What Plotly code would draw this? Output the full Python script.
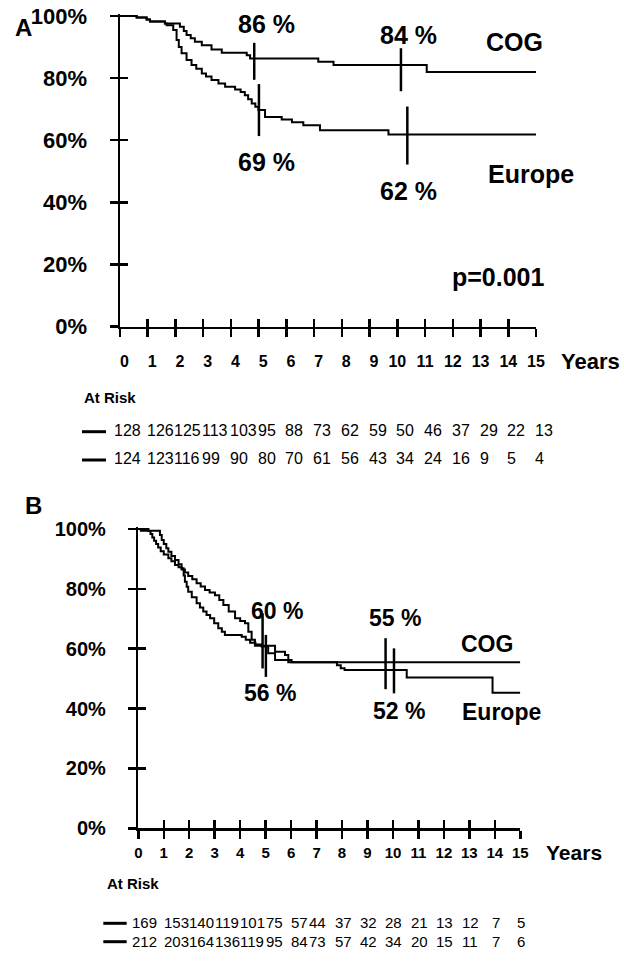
import plotly.graph_objects as go

W, H = 624, 963
FONT = "Liberation Sans, Arial, sans-serif"

# ---------------- data: panel A ----------------
a_cog_t = [0, 0.6, 0.96, 1.08, 1.62, 2.16, 2.3, 2.4, 2.55, 2.7, 2.95, 3.3, 3.67, 4.57, 4.69, 7.15, 7.7, 11.06, 15]
a_cog_s = [100, 99.5, 98.9, 98.2, 97.6, 96.5, 95.2, 93.9, 92.8, 91.7, 90.6, 89.2, 88.2, 87.4, 86.3, 85.3, 84.2, 82.0, 82.0]
a_eur_t = [0, 0.6, 0.96, 1.08, 1.62, 1.68, 1.92, 2.04, 2.12, 2.22, 2.4, 2.58, 2.75, 2.95, 3.1, 3.3, 3.55,
           3.79, 4.15, 4.35, 4.5, 4.62, 4.75, 4.88, 4.99, 5.23, 5.83, 6.2, 6.61, 7.21, 9.68, 15]
a_eur_s = [100, 99.5, 98.9, 98.2, 97.6, 97.0, 95.5, 92.3, 90.0, 88.0, 85.8, 84.2, 83.0, 81.5, 80.5, 79.4, 78.3,
           77.2, 76.3, 75.5, 74.5, 73.2, 71.8, 70.8, 69.7, 67.5, 66.7, 65.8, 64.8, 63.2, 61.8, 61.8]
a_mark_t = [4.84, 10.13, 5.01, 10.36]
a_mark_s = [85.4, 82.7, 69.7, 61.5]
a_mark_txt = ["86 %", "84 %", "69 %", "62 %"]

# ---------------- data: panel B ----------------
b_cog_t = [0, 0.4, 0.48, 0.55, 0.62, 0.7, 0.78, 0.88, 1.0, 1.18, 1.3, 1.44, 1.58, 1.7, 1.83, 1.96, 2.12, 2.29,
           2.45, 2.62, 2.8, 3.01, 3.18, 3.34, 3.55, 3.8, 4.0, 4.19, 4.32, 4.45, 4.58, 5.37, 5.76, 5.89, 15]
b_cog_s = [100, 99.3, 98.3, 97.2, 96.1, 95.0, 93.8, 92.6, 91.5, 90.2, 89.2, 88.0, 87.2, 86.5, 85.5, 84.3, 83.2, 81.9,
           80.8, 79.6, 78.8, 77.9, 76.3, 74.6, 72.4, 70.2, 69.3, 68.5, 65.7, 63.0, 61.0, 59.0, 57.9, 55.5, 55.5]
b_eur_t = [0, 0.1, 0.85, 0.92, 1.0, 1.1, 1.18, 1.3, 1.44, 1.58, 1.7, 1.78, 1.83, 1.9, 1.96, 2.1, 2.29, 2.42, 2.55,
           2.68, 2.82, 2.98, 3.14, 3.28, 3.4, 4.06, 4.22, 4.39, 4.6, 4.84, 5.1, 5.37, 6.02, 7.8, 7.95, 8.1, 10.54,
           13.91, 15]
b_eur_s = [100, 99.4, 98.0, 96.3, 95.0, 93.6, 92.4, 91.0, 89.6, 88.2, 86.9, 84.5, 82.4, 80.7, 79.0, 77.2, 75.2, 73.8,
           72.4, 71.3, 70.2, 68.5, 66.8, 65.7, 64.6, 64.0, 63.0, 62.0, 61.4, 60.7, 58.5, 56.2, 55.5, 54.5, 53.5, 52.9,
           50.4, 45.3, 45.3]
b_mark_t = [4.88, 9.71, 5.01, 10.04]
b_mark_s = [62.6, 55.0, 57.6, 52.6]
b_mark_txt = ["60 %", "55 %", "56 %", "52 %"]

# ---------------- at-risk tables & ticks ----------------
years = list(range(16))
y_ticks = [0, 20, 40, 60, 80, 100]
y_ticktext = ["0%", "20%", "40%", "60%", "80%", "100%"]
a_risk_cog = [128, 126, 125, 113, 103, 95, 88, 73, 62, 59, 50, 46, 37, 29, 22, 13]
a_risk_eur = [124, 123, 116, 99, 90, 80, 70, 61, 56, 43, 34, 24, 16, 9, 5, 4]
b_risk_cog = [169, 153, 140, 119, 101, 75, 57, 44, 37, 32, 28, 21, 13, 12, 7, 5]
b_risk_eur = [212, 203, 164, 136, 119, 95, 84, 73, 57, 42, 34, 20, 15, 11, 7, 6]

# ---------------- geometry (pixels) ----------------
def px(x):
    return x / W

def py(y):
    return 1 - y / H

YTOP = 100.6
a_ppu = (326.5 - 16) / 100
a_dom_y = [py(326.5), py(326.5 - YTOP * a_ppu)]
a_dom_x = [px(120), px(536)]
b_ppu = (828.3 - 529) / 100
b_dom_y = [py(828.3), py(828.3 - YTOP * b_ppu)]
b_dom_x = [px(138.3), px(520.3)]

BLACK = "black"
fig = go.Figure()

def curve(t, s, xa, ya):
    fig.add_trace(go.Scatter(x=t, y=s, mode="lines", line=dict(color=BLACK, width=2, shape="hv"),
                             xaxis=xa, yaxis=ya, showlegend=False, hoverinfo="skip"))

curve(a_cog_t, a_cog_s, "x", "y")
curve(a_eur_t, a_eur_s, "x", "y")
curve(b_cog_t, b_cog_s, "x2", "y2")
curve(b_eur_t, b_eur_s, "x2", "y2")

a_mark_len = [37, 43, 52, 58]
b_mark_len = [55, 51, 42, 45]
for mt, ms, ml, xa, ya in [(a_mark_t, a_mark_s, a_mark_len, "x", "y"), (b_mark_t, b_mark_s, b_mark_len, "x2", "y2")]:
    fig.add_trace(go.Scatter(x=mt, y=ms, mode="markers", xaxis=xa, yaxis=ya, cliponaxis=False,
                             marker=dict(symbol="line-ns-open", size=[l / 1.4 for l in ml], color=BLACK,
                                         opacity=1, line=dict(color=BLACK, width=2.5)),
                             showlegend=False, hoverinfo="skip"))

# invisible traces so that the overlay (inside-tick) axes are drawn
for xa, ya in [("x3", "y3"), ("x4", "y4")]:
    fig.add_trace(go.Scatter(x=[None], y=[None], mode="markers", xaxis=xa, yaxis=ya,
                             showlegend=False, hoverinfo="skip"))

def xaxis_main(dom, anchor, tickfont_size, ticktext, standoff):
    return dict(domain=dom, anchor=anchor, range=[0, 15], tickmode="array", tickvals=years, ticktext=ticktext,
                ticks="outside", ticklen=8, tickwidth=2.5, tickcolor=BLACK, showline=True, linewidth=2.5,
                linecolor=BLACK, showgrid=False, zeroline=False, fixedrange=True, automargin=False,
                tickfont=dict(family=FONT, size=tickfont_size, color=BLACK, weight="bold"),
                ticklabelstandoff=standoff)

def xaxis_over(over, anchor):
    return dict(overlaying=over, anchor=anchor, range=[0, 15], tickmode="array", tickvals=years,
                ticks="inside", ticklen=8, tickwidth=2.5, tickcolor=BLACK, showticklabels=False,
                showline=False, showgrid=False, zeroline=False, automargin=False, fixedrange=True)

def yaxis_main(dom, anchor, tickfont_size, standoff):
    return dict(domain=dom, anchor=anchor, range=[0, YTOP], tickmode="array", tickvals=y_ticks,
                ticktext=y_ticktext, ticks="outside", ticklen=8, tickwidth=2.5, tickcolor=BLACK, showline=True,
                linewidth=2.5, linecolor=BLACK, showgrid=False, zeroline=False, fixedrange=True, automargin=False,
                tickfont=dict(family=FONT, size=tickfont_size, color=BLACK, weight="bold"),
                ticklabelstandoff=standoff)

def yaxis_over(over, anchor):
    return dict(overlaying=over, anchor=anchor, range=[0, YTOP], tickmode="array", tickvals=y_ticks,
                ticks="inside", ticklen=8, tickwidth=2.5, tickcolor=BLACK, showticklabels=False,
                showline=False, showgrid=False, zeroline=False, automargin=False, fixedrange=True)

a_xticktext = [("\u00a0\u00a0" + str(v)) if v < 10 else str(v) for v in years]
b_xticktext = [str(v) for v in years]

annotations = []

def ann(text, x, y, xr, yr, size, bold=True, xanchor="center", xshift=0):
    annotations.append(dict(text=text, x=x, y=y, xref=xr, yref=yr, showarrow=False, xanchor=xanchor,
                            yanchor="middle", xshift=xshift,
                            font=dict(family=FONT, size=size, color=BLACK, weight="bold" if bold else "normal")))

def pann(text, xpix, ypix, size, bold=True, xanchor="center"):
    ann(text, px(xpix), py(ypix), "paper", "paper", size, bold=bold, xanchor=xanchor)

# Panel A texts
pann("A", 23, 27, 24)
a_txt_pos = [(5.27, 97.3), (10.40, 93.9), (5.27, 53.0), (10.40, 43.6)]
for txt, (tx, ty) in zip(a_mark_txt, a_txt_pos):
    ann(txt, tx, ty, "x", "y", 25)
ann("COG", 14.24, 91.5, "x", "y", 25)
ann("Europe", 14.81, 49.0, "x", "y", 25)
ann("p=0.001", 13.64, 15.9, "x", "y", 25)
pann("Years", 590, 362, 22)
pann("At Risk", 82, 397, 15, xanchor="left")
a_shift = [-8] + [-3] * 15
for yr, v, sh in zip(years, a_risk_cog, a_shift):
    ann(str(v), yr, py(430), "x", "paper", 16, bold=False, xanchor="left", xshift=sh)
for yr, v, sh in zip(years, a_risk_eur, a_shift):
    ann(str(v), yr, py(458.3), "x", "paper", 16, bold=False, xanchor="left", xshift=sh)

# Panel B texts
pann("B", 33, 505, 24)
b_txt_pos = [(5.43, 72.7), (10.08, 70.2), (5.17, 45.1), (10.24, 39.3)]
for txt, (tx, ty) in zip(b_mark_txt, b_txt_pos):
    ann(txt, tx, ty, "x2", "y2", 23)
ann("COG", 13.68, 61.6, "x2", "y2", 23)
ann("Europe", 14.25, 39.0, "x2", "y2", 23)
pann("Years", 574, 852.3, 21)
pann("At Risk", 105, 883.3, 15, xanchor="left")

def b_risk_row(values, ypix):
    for i, (yr, v) in enumerate(zip(years, values)):
        s = str(v)
        if i == 0:
            ann(s, yr, py(ypix), "x2", "paper", 15, bold=False, xanchor="left", xshift=-8)
        elif i <= 6:
            ann(s, yr, py(ypix), "x2", "paper", 15, bold=False, xanchor="left", xshift=-2)
        else:
            ann(s, yr, py(ypix), "x2", "paper", 15, bold=False, xshift=1)

b_risk_row(b_risk_cog, 922)
b_risk_row(b_risk_eur, 941)

# legend dashes for the at-risk rows
shapes = []
for (x0, x1, yv) in [(82, 106, 431.7), (82, 106, 460), (103.3, 126.7, 923.3), (103.3, 126.7, 941.7)]:
    shapes.append(dict(type="line", x0=px(x0), x1=px(x1), y0=py(yv), y1=py(yv), xref="paper", yref="paper",
                       line=dict(color=BLACK, width=3)))

fig.update_layout(
    width=W, height=H, margin=dict(l=0, r=0, t=0, b=0, autoexpand=False),
    paper_bgcolor="white", plot_bgcolor="white", showlegend=False,
    xaxis=xaxis_main(a_dom_x, "y", 16, a_xticktext, 11),
    yaxis=yaxis_main(a_dom_y, "x", 22, 18),
    xaxis2=xaxis_main(b_dom_x, "y2", 15, b_xticktext, 1),
    yaxis2=yaxis_main(b_dom_y, "x2", 20, 18),
    xaxis3=xaxis_over("x", "y"),
    yaxis3=yaxis_over("y", "x"),
    xaxis4=xaxis_over("x2", "y2"),
    yaxis4=yaxis_over("y2", "x2"),
    annotations=annotations, shapes=shapes,
)

fig.write_html("out.html", config={"displayModeBar": False, "staticPlot": True},
               post_script="document.body.style.margin='0px';document.body.style.overflow='hidden';")
